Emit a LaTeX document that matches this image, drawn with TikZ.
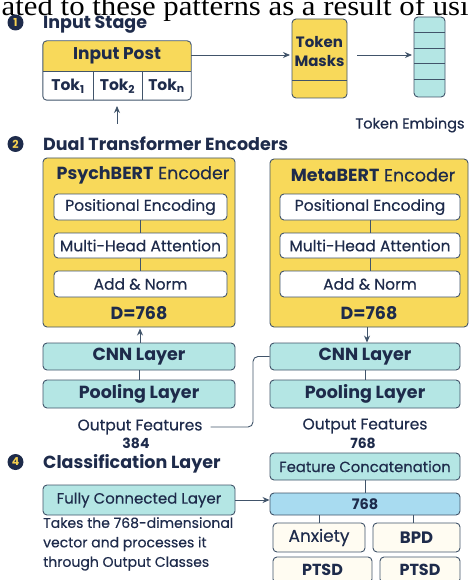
\documentclass[tikz,border=0pt]{standalone}
\usepackage{fontspec}
\setmainfont{Poppins}[UprightFeatures={FakeBold=0.35}]
\newfontfamily\serifface{Liberation Serif}
\usetikzlibrary{arrows.meta}
\definecolor{yel}{HTML}{F8D95A}
\definecolor{tealf}{HTML}{B4E6E4}
\definecolor{bord}{HTML}{41546A}
\definecolor{navy}{HTML}{1E2B4B}
\definecolor{cream}{HTML}{FFFCF2}
\definecolor{blu}{HTML}{A8DBF0}
\definecolor{numc}{HTML}{F5D050}
\tikzset{
  bx/.style={draw=bord, line width=0.9pt, rounded corners=4, inner sep=0pt, text=navy},
  ybox/.style={bx, fill=yel},
  tbox/.style={bx, fill=tealf},
  wbox/.style={bx, fill=cream},
  conn/.style={draw=bord, line width=0.9pt},
  arr/.style={conn, -{Stealth[length=7pt,width=6pt]}},
  txt/.style={text=navy, inner sep=0pt},
  head/.style={txt, anchor=base west, font=\bfseries\fontsize{17.5}{18}\selectfont},
  num/.style={circle, fill=navy, text=numc, inner sep=0pt, minimum size=16pt, font=\bfseries\fontsize{11}{11}\selectfont},
  inner/.style={wbox, fill=white, font=\fontsize{15.5}{16}\selectfont},
  big/.style={font=\bfseries\fontsize{17.5}{18}\selectfont},
}
\begin{document}
\begin{tikzpicture}[x=1pt,y=-1pt]
\useasboundingbox (0,0) rectangle (469,580);
\begin{scope}
\clip (0,0) rectangle (469,580);

% running text line from the page above
\node[anchor=base west, inner sep=0pt, xscale=1.10, font=\serifface\fontsize{28}{28}\selectfont] (runline) at (1.5,15.5) {ated to these patterns as a result of usi};

% ---------- 1: input stage ----------
\node[num] (n1) at (15.5,22.5) {1};
\node[head] (h1) at (43,28.5) {Input Stage};

\node[minimum width=148pt, minimum height=59pt, inner sep=0pt] (ip) at (117,70.5) {};
\begin{scope}
  \clip[rounded corners=4] (ip.north west) rectangle (ip.south east);
  \fill[yel] (43,41) rectangle (191,71);
  \fill[white] (43,71) rectangle (191,100);
\end{scope}
\draw[conn, rounded corners=4] (ip.north west) rectangle (ip.south east);
\draw[conn] (43,71) -- (191,71);
\draw[conn] (93,71) -- (93,100);
\draw[conn] (142,71) -- (142,100);
\node[txt, font=\bfseries\fontsize{17}{18}\selectfont] (iptitle) at (117,56) {Input Post};
\node[txt, font=\bfseries\fontsize{15.5}{16}\selectfont] (tok1) at (68,86) {Tok\textsubscript{1}};
\node[txt, font=\bfseries\fontsize{15.5}{16}\selectfont] (tok2) at (117.5,86) {Tok\textsubscript{2}};
\node[txt, font=\bfseries\fontsize{15.5}{16}\selectfont] (tokn) at (166.5,86) {Tok\textsubscript{n}};
\coordinate (tokin) at (117,124);
\draw[arr] (tokin) -- (117,106);

\node[ybox, minimum width=55pt, minimum height=79pt] (tm) at (319.5,58.5) {};
\draw[conn] (292,80) -- (347,80);
\node[txt, align=center, font=\bfseries\fontsize{15}{19}\selectfont] (tmtext) at (319.5,52) {Token\\Masks};
\draw[arr] (ip.east |- 0,55) -- (290,55);

\node[tbox, minimum width=31pt, minimum height=80pt] (emb) at (429.5,57) {};
\foreach \yy in {32,48,63,79} \draw[conn] (414,\yy) -- (445,\yy);
\draw[arr] (357,55) -- (412,55);
\node[txt, font=\fontsize{14.5}{15}\selectfont] (embl) at (410,125) {Token Embings};

% ---------- 2: dual transformer encoders ----------
\node[num] (n2) at (15.5,144) {2};
\node[head] (h2) at (43,150) {Dual Transformer Encoders};

\node[ybox, minimum width=192pt, minimum height=169pt] (pb) at (139,242.5) {};
\node[txt, font=\fontsize{17.5}{18}\selectfont] (pbt) at (143,175) {\textbf{PsychBERT} Encoder};
\node[inner, minimum width=173pt, minimum height=26pt] (pb1) at (140.5,207) {Positional Encoding};
\node[inner, minimum width=173pt, minimum height=25pt] (pb2) at (140.5,245.5) {Multi-Head Attention};
\node[inner, minimum width=173pt, minimum height=26pt] (pb3) at (140.5,284) {Add \& Norm};
\draw[conn] (pb1) -- (pb2);
\draw[conn] (pb2) -- (pb3);
\node[txt, font=\bfseries\fontsize{17.5}{18}\selectfont] (pbd) at (139,313) {D=768};

\node[ybox, minimum width=198pt, minimum height=168pt] (mb) at (369,243) {};
\node[txt, font=\fontsize{17.5}{18}\selectfont] (mbt) at (373,175) {\textbf{MetaBERT} Encoder};
\node[inner, minimum width=180pt, minimum height=26pt] (mb1) at (370,207) {Positional Encoding};
\node[inner, minimum width=180pt, minimum height=25pt] (mb2) at (370,245.5) {Multi-Head Attention};
\node[inner, minimum width=180pt, minimum height=26pt] (mb3) at (370,284) {Add \& Norm};
\draw[conn] (mb1) -- (mb2);
\draw[conn] (mb2) -- (mb3);
\node[txt, font=\bfseries\fontsize{17.5}{18}\selectfont] (mbd) at (369,313) {D=768};

% ---------- CNN / pooling branches ----------
\node[tbox, big, minimum width=192pt, minimum height=27pt] (cnnL) at (139,356.5) {CNN Layer};
\node[tbox, big, minimum width=192pt, minimum height=28pt] (poolL) at (139,394) {Pooling Layer};
\draw[conn] (cnnL) -- (poolL);
\draw[arr] (cnnL.north -| 140,0) -- (140,328.5);

\node[tbox, big, minimum width=190pt, minimum height=27pt] (cnnR) at (365,356.5) {CNN Layer};
\node[tbox, big, minimum width=190pt, minimum height=28pt] (poolR) at (365,394) {Pooling Layer};
\draw[conn] (cnnR) -- (poolR);
\draw[arr] (367,327) -- (cnnR.north -| 367,0);

\node[txt, font=\fontsize{15.5}{16}\selectfont] (ofL) at (140,427) {Output Features};
\node[txt, font=\bfseries\fontsize{14}{15}\selectfont] (ofLn) at (136,443) {384};
\draw[conn, rounded corners=5] ([xshift=8pt]ofL.east) -- (253,427) |- (cnnR.west);

\node[txt, font=\fontsize{15.5}{16}\selectfont] (ofR) at (365,426) {Output Features};
\node[txt, font=\bfseries\fontsize{14}{15}\selectfont] (ofRn) at (363,443) {768};

% ---------- 4: classification layer ----------
\node[num] (n4) at (15.5,462) {4};
\node[head] (h4) at (43,468.5) {Classification Layer};

\node[tbox, minimum width=192pt, minimum height=30pt, font=\fontsize{15}{16}\selectfont] (fc) at (139,500) {Fully Connected Layer};
\node[txt, anchor=north west, align=left, font=\fontsize{14}{19.5}\selectfont] (fcnote) at (43,517) {Takes the 768-dimensional\\vector and processes it\\through Output Classes};

\node[tbox, minimum width=190pt, minimum height=27pt, font=\fontsize{14.8}{15}\selectfont] (fcat) at (365,466.5) {Feature Concatenation};
\node[bx, fill=blu, minimum width=190pt, minimum height=22pt, font=\bfseries\fontsize{14.5}{15}\selectfont] (v768) at (365,504) {768};
\draw[conn] (fcat) -- (v768);
\draw[arr] (fc.east) -- (fc.east -| v768.west);

\node[wbox, minimum width=92pt, minimum height=29pt, font=\fontsize{17}{18}\selectfont] (anx) at (319,537.5) {Anxiety};
\node[wbox, minimum width=87pt, minimum height=29pt, font=\bfseries\fontsize{16.5}{17}\selectfont] (bpd) at (416.5,537.5) {BPD};
\node[wbox, minimum width=99pt, minimum height=26pt, font=\bfseries\fontsize{16}{17}\selectfont] (ptsdA) at (322.5,570) {PTSD};
\node[wbox, minimum width=80pt, minimum height=26pt, font=\bfseries\fontsize{16}{17}\selectfont] (ptsdB) at (420,570) {PTSD};
\draw[conn] (v768.south -| anx.north) -- (anx.north);
\draw[conn] (v768.south -| 413,0) -- (bpd.north -| 413,0);
\end{scope}
\end{tikzpicture}
\end{document}
